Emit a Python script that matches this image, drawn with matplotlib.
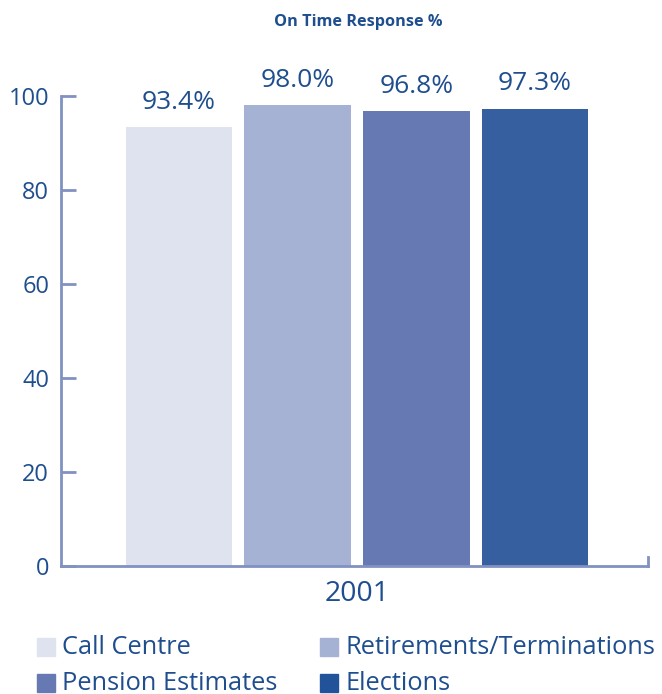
import matplotlib.pyplot as plt
from matplotlib.patches import Rectangle

plt.rcParams['font.family'] = ['Open Sans', 'DejaVu Sans']

categories = ['Call Centre', 'Retirements/Terminations', 'Pension Estimates', 'Elections']
values = [93.4, 98.0, 96.8, 97.3]
colors = ['#dfe3ef', '#a6b2d3', '#6679b2', '#365f9f']
legend_colors = ['#dfe3ef', '#a6b2d3', '#6679b2', '#22539a']
year = '2001'

text_c = '#1f4e8f'
axis_c = '#8191c2'
W, H = 662, 694

fig = plt.figure(figsize=(6.62, 6.94), dpi=100)
ax = fig.add_axes([61 / W, 1 - 566 / H, 587 / W, 470 / H])

x = range(len(values))
bars = ax.bar(x, values, width=0.9, color=colors)
for b, v in zip(bars, values):
    ax.annotate(f'{v:.1f}%', (b.get_x() + b.get_width() / 2, v),
                xytext=(0, 9), textcoords='offset points',
                ha='center', va='bottom', fontsize=19, color=text_c)

ax.set_xlim(-0.996, 3.954)
ax.set_ylim(0, 100)
ax.set_yticks([0, 20, 40, 60, 80, 100])
ax.tick_params(axis='y', direction='in', length=11, width=2, color=axis_c,
               labelsize=17, labelcolor=text_c, pad=8.5)
ax.set_xticks([1.5])
ax.set_xticklabels([year])
ax.tick_params(axis='x', length=0, labelsize=20.5, labelcolor=text_c, pad=10)

for s in ['top', 'right']:
    ax.spines[s].set_visible(False)
for s in ['left', 'bottom']:
    ax.spines[s].set_color(axis_c)
    ax.spines[s].set_linewidth(2)
ax.plot([1, 1], [0, 0.02], transform=ax.transAxes, color=axis_c, lw=2, clip_on=False)

fig.text(358 / W, 1 - 22 / H, 'On Time Response %', ha='center', va='center',
         fontsize=11.7, fontweight='bold', color=text_c)

# legend, 2 x 2 grid laid out by hand
col_x = [37, 320]
row_y = [647, 683]
for i, (lab, c) in enumerate(zip(categories, legend_colors)):
    px, py = col_x[i % 2], row_y[i // 2]
    fig.patches.append(Rectangle((px / W, 1 - (py + 9) / H), 18 / W, 18 / H,
                                 transform=fig.transFigure, color=c))
    fig.text((px + 25) / W, 1 - py / H, lab, ha='left', va='center',
             fontsize=18.3, color=text_c)

fig.savefig('out.png', dpi=100)
